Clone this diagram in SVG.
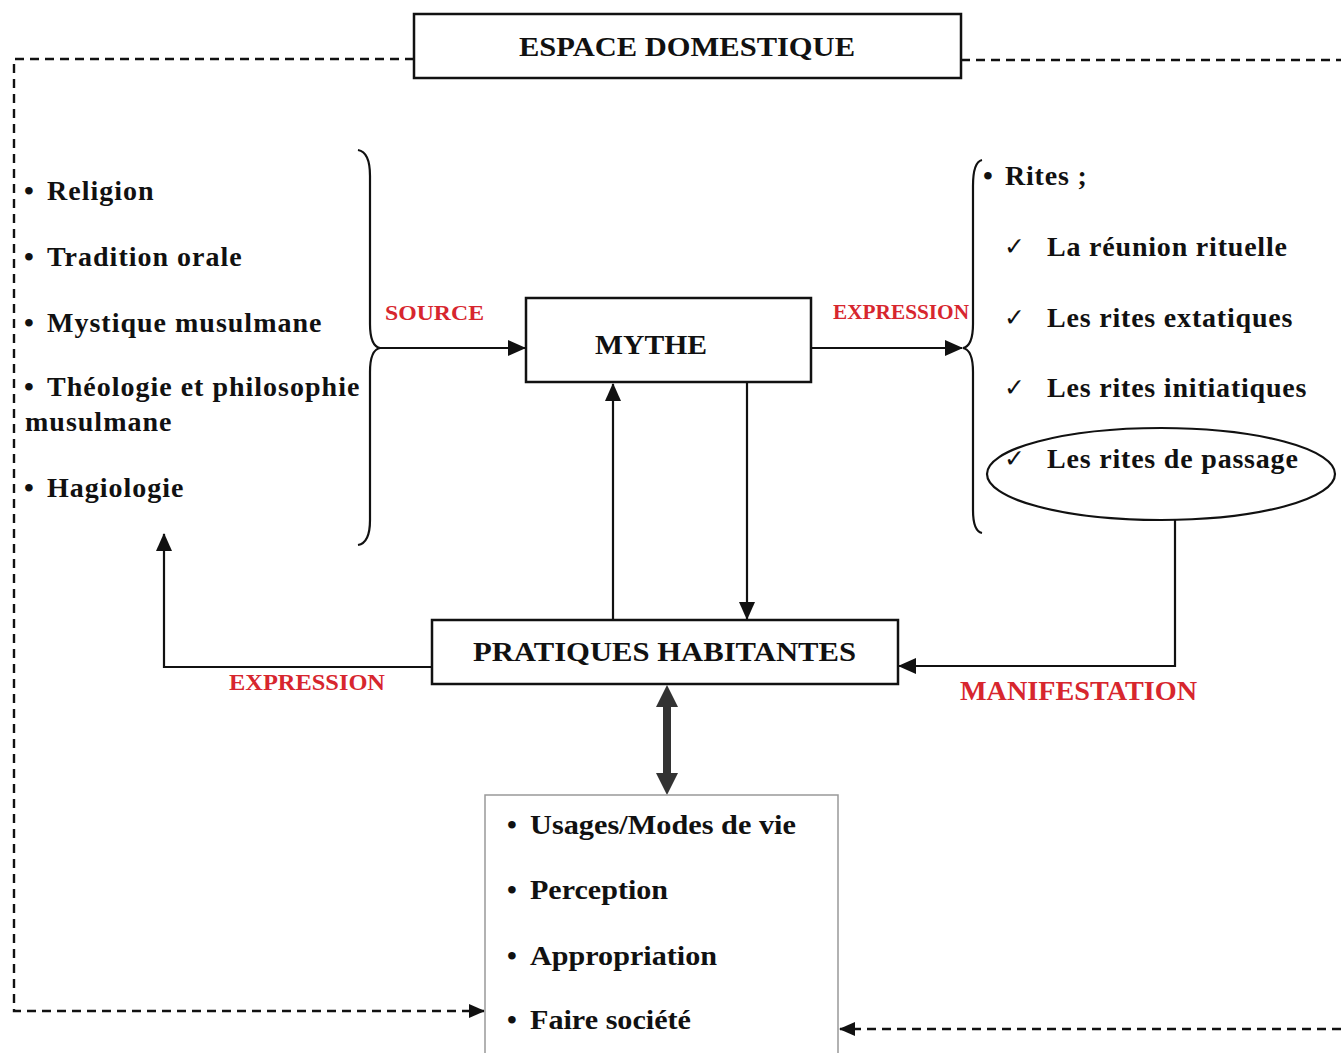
<svg xmlns="http://www.w3.org/2000/svg" width="1341" height="1053" viewBox="0 0 1341 1053">
<style>
.t{font-family:"Liberation Serif","Times New Roman",serif;font-weight:bold;fill:#111}
.lbl{font-family:"Liberation Serif","Times New Roman",serif;font-weight:bold;fill:#d7262e}
.box{fill:#fff;stroke:#111;stroke-width:2.5}
.ln{fill:none;stroke:#111;stroke-width:2.2}
.dash{fill:none;stroke:#111;stroke-width:2.4;stroke-dasharray:9 6}
.chk{font-family:"DejaVu Sans",sans-serif;font-weight:bold;fill:#111}
</style>
<defs>
<marker id="ah" markerUnits="userSpaceOnUse" markerWidth="18" markerHeight="16" refX="17" refY="8" orient="auto">
<path d="M0 0 L18 8 L0 16 Z" fill="#111"/>
</marker>
<marker id="ahs" markerUnits="userSpaceOnUse" markerWidth="16" markerHeight="14" refX="15" refY="7" orient="auto">
<path d="M0 0 L16 7 L0 14 Z" fill="#111"/>
</marker>
</defs>
<rect width="1341" height="1053" fill="#fff"/>

<g id="connectors">
<path class="dash" d="M414 59 H14 V1011 H484" marker-end="url(#ahs)"/>
<path class="dash" d="M961 60 H1341"/>
<path class="dash" d="M1341 1029 H840" marker-end="url(#ahs)"/>
<path class="ln" d="M378 348 H525" marker-end="url(#ah)"/>
<path class="ln" d="M812 348 H962" marker-end="url(#ah)"/>
<path class="ln" d="M613 620 V384" marker-end="url(#ah)"/>
<path class="ln" d="M747 383 V619" marker-end="url(#ah)"/>
<path class="ln" d="M432 667 H164 V534" marker-end="url(#ah)"/>
<path class="ln" d="M1175 520 V666 H899" marker-end="url(#ah)"/>
<path d="M667 685 L678 707 L671 707 L671 773 L678 773 L667 795 L656 773 L663 773 L663 707 L656 707 Z" fill="#333"/>
<text class="lbl" x="385" y="320" font-size="22" textLength="99" lengthAdjust="spacingAndGlyphs">SOURCE</text>
<text class="lbl" x="833" y="319" font-size="21" textLength="136" lengthAdjust="spacingAndGlyphs">EXPRESSION</text>
<text class="lbl" x="229" y="690" font-size="23" textLength="156" lengthAdjust="spacingAndGlyphs">EXPRESSION</text>
<text class="lbl" x="960" y="700" font-size="27" textLength="237" lengthAdjust="spacingAndGlyphs">MANIFESTATION</text>
</g>

<g id="espace">
<rect class="box" x="414" y="14" width="547" height="64"/>
<text class="t" x="519" y="56" font-size="28" textLength="336" lengthAdjust="spacingAndGlyphs">ESPACE DOMESTIQUE</text>
</g>

<g id="sources">
<text class="t" font-size="28" letter-spacing="1">
<tspan x="24" y="200">•</tspan><tspan x="47" y="200">Religion</tspan>
<tspan x="24" y="266">•</tspan><tspan x="47" y="266">Tradition orale</tspan>
<tspan x="24" y="332">•</tspan><tspan x="47" y="332">Mystique musulmane</tspan>
<tspan x="24" y="396">•</tspan><tspan x="47" y="396">Théologie et philosophie</tspan>
<tspan x="25" y="431">musulmane</tspan>
<tspan x="24" y="497">•</tspan><tspan x="47" y="497">Hagiologie</tspan>
</text>
<path class="ln" d="M358 150 Q370 152 370 176 L370 324 Q370 346 380 348 Q370 350 370 372 L370 520 Q370 543 358 545"/>
</g>

<g id="mythe">
<rect class="box" x="526" y="298" width="285" height="84"/>
<text class="t" x="595" y="354" font-size="28" textLength="112" lengthAdjust="spacingAndGlyphs">MYTHE</text>
</g>

<g id="rites">
<path class="ln" d="M982 160 Q973 162 973 186 L973 324 Q973 346 963 348 Q973 350 973 372 L973 510 Q973 531 982 533"/>
<ellipse cx="1161" cy="474" rx="174" ry="46" fill="none" stroke="#111" stroke-width="2.2"/>
<text class="t" font-size="28" letter-spacing="0.8">
<tspan x="983" y="185">•</tspan><tspan x="1005" y="185">Rites ;</tspan>
<tspan x="1047" y="256">La réunion rituelle</tspan>
<tspan x="1047" y="327">Les rites extatiques</tspan>
<tspan x="1047" y="397">Les rites initiatiques</tspan>
<tspan x="1047" y="468">Les rites de passage</tspan>
</text>
<text class="chk" font-size="25">
<tspan x="1004" y="255">✓</tspan>
<tspan x="1004" y="326">✓</tspan>
<tspan x="1004" y="396">✓</tspan>
<tspan x="1004" y="467">✓</tspan>
</text>
</g>

<g id="pratiques">
<rect class="box" x="432" y="620" width="466" height="64"/>
<text class="t" x="473" y="661" font-size="28" textLength="383" lengthAdjust="spacingAndGlyphs">PRATIQUES HABITANTES</text>
</g>

<g id="usages">
<rect x="485" y="795" width="353" height="270" fill="#fff" stroke="#999" stroke-width="1.5"/>
<text class="t" font-size="28">
<tspan x="507" y="834">•</tspan><tspan x="530" y="834" textLength="266" lengthAdjust="spacingAndGlyphs">Usages/Modes de vie</tspan>
<tspan x="507" y="899">•</tspan><tspan x="530" y="899" textLength="138" lengthAdjust="spacingAndGlyphs">Perception</tspan>
<tspan x="507" y="965">•</tspan><tspan x="530" y="965" textLength="187" lengthAdjust="spacingAndGlyphs">Appropriation</tspan>
<tspan x="507" y="1029">•</tspan><tspan x="530" y="1029" textLength="161" lengthAdjust="spacingAndGlyphs">Faire société</tspan>
</text>
</g>
</svg>
